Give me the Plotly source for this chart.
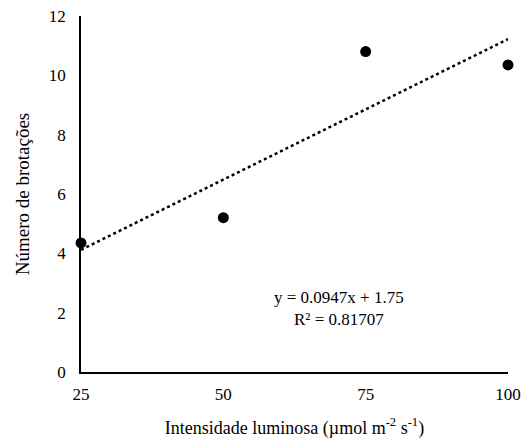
import plotly.graph_objects as go

# Data
intensidade = [25, 50, 75, 100]
brotacoes = [4.35, 5.2, 10.8, 10.35]
slope = 0.0947
intercept = 1.75
r2 = 0.81707
x_ticks = [25, 50, 75, 100]
y_ticks = [0, 2, 4, 6, 8, 10, 12]

trend_x = [intensidade[0], intensidade[-1]]
trend_y = [slope * v + intercept for v in trend_x]

font = "Liberation Serif, Times New Roman, serif"

fig = go.Figure()
fig.add_trace(go.Scatter(x=trend_x, y=trend_y, mode="lines",
                         line=dict(color="black", width=2.5, dash="dot"),
                         showlegend=False, hoverinfo="skip", cliponaxis=False))
fig.add_trace(go.Scatter(x=intensidade, y=brotacoes, mode="markers",
                         marker=dict(color="black", size=11),
                         showlegend=False, cliponaxis=False))

fig.add_annotation(x=0.604, y=0.177, xref="paper", yref="paper",
                   xanchor="center", yanchor="middle",
                   text=f"y = {slope}x + {intercept}<br>R² = {r2}",
                   showarrow=False, align="center",
                   font=dict(family=font, size=17, color="black"))

fig.update_layout(
    width=529, height=439,
    margin=dict(l=81, r=21, t=16, b=67),
    paper_bgcolor="white", plot_bgcolor="white",
    font=dict(family=font, size=17, color="black"),
    xaxis=dict(range=[25, 100], tickvals=x_ticks, showgrid=False, zeroline=False,
               showline=True, linecolor="black", linewidth=1.5, ticks="",
               automargin=False, ticklabelstandoff=6,
               title=dict(text="Intensidade luminosa (µmol m<sup>-2</sup> s<sup>-1</sup>)",
                          font=dict(size=18), standoff=21)),
    yaxis=dict(range=[0, 12], tickvals=y_ticks, showgrid=False, zeroline=False,
               showline=True, linecolor="black", linewidth=1.5, ticks="",
               automargin=False, ticklabelstandoff=10,
               title=dict(text="Número de brotações", font=dict(size=19), standoff=14)),
)

fig.write_html("out.html", config={"displayModeBar": False},
               post_script="document.body.style.margin='0';")
